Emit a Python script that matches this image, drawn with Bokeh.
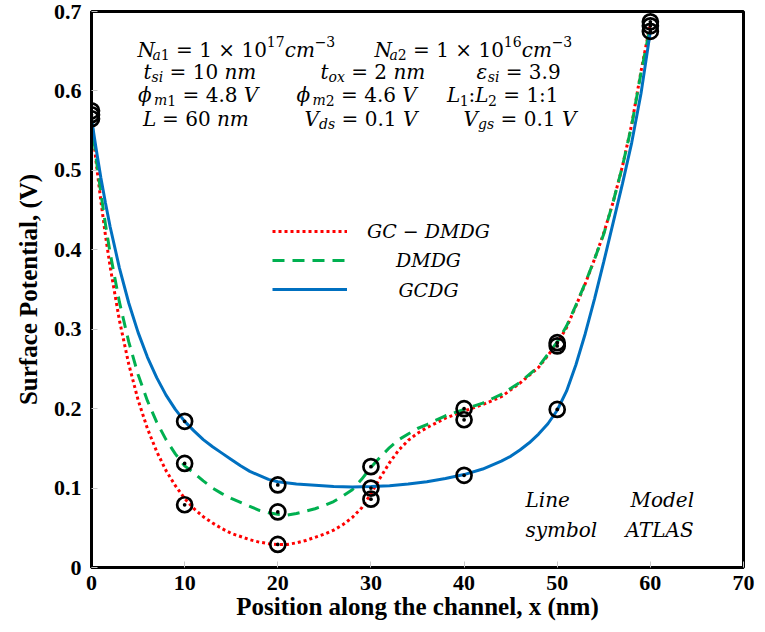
import numpy as np
from bokeh.plotting import figure
from bokeh.models import (ColumnDataSource, Range1d, FixedTicker, CustomJSTickFormatter,
                          Legend, LegendItem, Label)
from bokeh.core.properties import value
from bokeh.embed import file_html
from bokeh.resources import INLINE

# ---------------- data ----------------
x_ticks = [0, 10, 20, 30, 40, 50, 60, 70]
y_ticks = [0, 0.1, 0.2, 0.3, 0.4, 0.5, 0.6, 0.7]

# Model curves (position nm, surface potential V)
gcdmdg_x = [0, 0.5, 1, 1.5, 2, 3, 4, 5, 6, 7, 8, 9, 10, 11, 12, 13, 14, 15, 16, 17, 18, 19,
            20, 21, 22, 23, 24, 25, 26, 27, 28, 29, 30, 31, 32, 33, 34, 35, 36, 38, 40, 42,
            44, 46, 48, 50, 51, 52, 53, 54, 55, 56, 57, 58, 59, 60]
gcdmdg_v = [0.565, 0.510, 0.462, 0.418, 0.379, 0.311, 0.256, 0.211, 0.175, 0.146, 0.122,
            0.103, 0.087, 0.074, 0.064, 0.056, 0.049, 0.043, 0.039, 0.035, 0.032, 0.030,
            0.029, 0.029, 0.031, 0.034, 0.038, 0.042, 0.047, 0.054, 0.063, 0.075, 0.093,
            0.113, 0.132, 0.148, 0.160, 0.169, 0.176, 0.188, 0.197, 0.205, 0.215, 0.232,
            0.252, 0.282, 0.302, 0.329, 0.357, 0.388, 0.421, 0.460, 0.505, 0.558, 0.625,
            0.685]

dmdg_x = [0, 0.5, 1, 1.5, 2, 3, 4, 5, 6, 7, 8, 9, 10, 11, 12, 13, 14, 15, 16, 17, 18, 19,
          20, 21, 22, 23, 24, 25, 26, 27, 28, 29, 30, 31, 32, 33, 34, 35, 36, 38, 40, 42,
          44, 46, 48, 50, 51, 52, 53, 54, 55, 56, 57, 58, 59, 60]
dmdg_v = [0.565, 0.515, 0.472, 0.432, 0.396, 0.334, 0.284, 0.243, 0.210, 0.183, 0.161,
          0.143, 0.128, 0.119, 0.109, 0.100, 0.093, 0.087, 0.082, 0.077, 0.072, 0.069,
          0.067, 0.066, 0.068, 0.071, 0.074, 0.078, 0.083, 0.090, 0.098, 0.111, 0.126,
          0.139, 0.151, 0.161, 0.168, 0.175, 0.180, 0.191, 0.199, 0.207, 0.218, 0.233,
          0.253, 0.284, 0.304, 0.330, 0.358, 0.388, 0.420, 0.460, 0.505, 0.557, 0.623,
          0.682]

gcdg_x = [0, 0.5, 1, 1.5, 2, 3, 4, 5, 6, 7, 8, 9, 10, 11, 12, 13, 14, 15, 16, 17, 18, 19,
          20, 22, 24, 26, 28, 30, 32, 34, 36, 38, 40, 42, 44, 45, 46, 47, 48, 49, 50, 51, 52,
          53, 54, 55, 56, 57, 58, 59, 60]
gcdg_v = [0.565, 0.527, 0.491, 0.459, 0.429, 0.377, 0.333, 0.296, 0.265, 0.239, 0.217,
          0.199, 0.184, 0.172, 0.161, 0.152, 0.144, 0.136, 0.128, 0.121, 0.116, 0.111,
          0.108, 0.105, 0.1035, 0.102, 0.1015, 0.102, 0.103, 0.105, 0.108, 0.112, 0.117,
          0.124, 0.134, 0.140, 0.148, 0.157, 0.168, 0.181, 0.198, 0.222, 0.255, 0.294,
          0.338, 0.385, 0.434, 0.483, 0.535, 0.597, 0.675]

# ATLAS simulation points
atlas_x = [0, 10, 20, 30, 40, 50, 60]
atlas_gcdmdg = [0.575, 0.079, 0.029, 0.086, 0.186, 0.283, 0.687]
atlas_dmdg = [0.570, 0.131, 0.070, 0.127, 0.200, 0.279, 0.682]
atlas_gcdg = [0.565, 0.184, 0.104, 0.100, 0.116, 0.199, 0.675]

series_labels = ["GC \u2212 DMDG", "DMDG", "GCDG"]
series_colors = ["#ff0000", "#00b050", "#0070c0"]

# ---------------- figure ----------------
FL, FT, FR, FB = 91, 11, 743, 567     # frame edges in page pixels
W_, H_ = 765, 630
p = figure(width=W_, height=H_, output_backend="svg", toolbar_location=None,
           x_range=Range1d(0, 70), y_range=Range1d(0, 0.7),
           min_border_left=FL, min_border_right=W_ - FR, min_border_top=FT,
           min_border_bottom=H_ - FB)
p.grid.visible = False
p.outline_line_color = "black"
p.outline_line_width = 3
p.outline_line_alpha = 1
p.background_fill_color = "white"
p.border_fill_color = "white"

for ax in (p.xaxis[0], p.yaxis[0]):
    ax.axis_line_width = 3
    ax.axis_line_color = "black"
    ax.major_tick_in = 6
    ax.major_tick_out = 0
    ax.major_tick_line_color = "#c8c8c8"
    ax.major_tick_line_width = 1
    ax.minor_tick_line_color = None
    ax.major_label_text_font = "Liberation Serif"
    ax.major_label_text_font_style = "bold"
    ax.major_label_text_font_size = "22px"
    ax.major_label_text_color = "black"
    ax.axis_label_text_font = "Liberation Serif"
    ax.axis_label_text_color = "black"
    ax.axis_label_text_font_style = "bold"
    ax.axis_label_text_font_size = "25px"

p.xaxis.ticker = FixedTicker(ticks=x_ticks)
p.yaxis.ticker = FixedTicker(ticks=y_ticks)
p.yaxis.formatter = CustomJSTickFormatter(code="return tick === 0 ? '0' : tick.toFixed(1);")
p.xaxis.major_label_standoff = 8
p.yaxis.major_label_standoff = 10

p.xaxis.axis_label = "Position along the channel, x (nm)"
p.xaxis.axis_label_standoff = 0
p.yaxis.axis_label = "Surface Potential, (V)"
p.yaxis.axis_label_standoff = 9

# curves
r_red = p.line(gcdmdg_x, gcdmdg_v, line_color=series_colors[0], line_width=3, line_dash="3 3")
r_green = p.line(dmdg_x, dmdg_v, line_color=series_colors[1], line_width=3, line_dash="12 8")
r_blue = p.line(gcdg_x, gcdg_v, line_color=series_colors[2], line_width=3)

# ATLAS markers
for ys in (atlas_gcdmdg, atlas_dmdg, atlas_gcdg):
    p.scatter(atlas_x, ys, marker="circle_dot", size=15, line_color="black",
              line_width=2.7, fill_color=None)

# legend samples (labels drawn separately so they can be centred)
legend = Legend(items=[LegendItem(label=" ", renderers=[r_red]),
                       LegendItem(label=" ", renderers=[r_green]),
                       LegendItem(label=" ", renderers=[r_blue])],
                location=(181, 268), orientation="vertical",
                glyph_width=75, glyph_height=20, label_height=20, spacing=9,
                label_standoff=0, label_text_font_size="1px", label_width=1,
                padding=0, margin=0, border_line_color=None, background_fill_alpha=0)
p.add_layout(legend)


def px_to_data(px, py):
    return (px - FL) / ((FR - FL) / 70), (FB - py) / ((FB - FT) / 0.7)


for lab, py in zip(series_labels, [230.5, 259.5, 289]):
    xd, yd = px_to_data(428, py)
    p.add_layout(Label(x=xd, y=yd, text=lab, text_font="DejaVu Serif",
                       text_font_style="italic", text_font_size="19px",
                       text_baseline="alphabetic", text_align="center", text_color="black"))

# ---------------- parameter annotations (math-like text) ----------------
W = {' ': .318, '.': .318, ':': .337, '=': .838, '\u00d7': .838, '\u2212': .838,
     'a': .596, 'c': .55, 'd': .64, 'g': .64, 'i': .32, 'm': .948, 'n': .64, 'o': .602,
     's': .513, 't': .401, 'x': .562, 'N': .75, 'V': .73, 'L': .634, '\u03b5': .56,
     '\u03d5': .8}
for dch in "0123456789":
    W[dch] = .636

MAIN, SUB, SUP = (20, 0), (14, 5), (14, -8)
R1, R2, R3, R4 = 49, 71.5, 94.5, 118

items = [
    ((137, R1), [("N", "italic", MAIN), ("a", "italic", SUB), ("1", "normal", SUB),
                 (" = 1 \u00d7 10", "normal", MAIN), ("17", "normal", SUP),
                 ("cm", "italic", MAIN), ("\u22123", "normal", SUP)]),
    ((374, R1), [("N", "italic", MAIN), ("a", "italic", SUB), ("2", "normal", SUB),
                 (" = 1 \u00d7 10", "normal", MAIN), ("16", "normal", SUP),
                 ("cm", "italic", MAIN), ("\u22123", "normal", SUP)]),
    ((143, R2), [("t", "italic", MAIN), ("si", "italic", SUB), (" = 10 ", "normal", MAIN),
                 ("nm", "italic", MAIN)]),
    ((320, R2), [("t", "italic", MAIN), ("ox", "italic", SUB), (" = 2 ", "normal", MAIN),
                 ("nm", "italic", MAIN)]),
    ((476, R2), [("\u03b5", "italic", MAIN), ("si", "italic", SUB), (" = 3.9", "normal", MAIN)]),
    ((137.5, R3), [("\u03d5", "italic", MAIN), ("m", "italic", SUB), ("1", "normal", SUB),
                   (" = 4.8 ", "normal", MAIN), ("V", "italic", MAIN)]),
    ((296, R3), [("\u03d5", "italic", MAIN), ("m", "italic", SUB), ("2", "normal", SUB),
                 (" = 4.6 ", "normal", MAIN), ("V", "italic", MAIN)]),
    ((446.5, R3), [("L", "italic", MAIN), ("1", "normal", SUB), (":", "normal", MAIN),
                   ("L", "italic", MAIN), ("2", "normal", SUB), (" = 1:1", "normal", MAIN)]),
    ((142.5, R4), [("L", "italic", MAIN), (" = 60 ", "normal", MAIN), ("nm", "italic", MAIN)]),
    ((304, R4), [("V", "italic", MAIN), ("ds", "italic", SUB), (" = 0.1 ", "normal", MAIN),
                 ("V", "italic", MAIN)]),
    ((463, R4), [("V", "italic", MAIN), ("gs", "italic", SUB), (" = 0.1 ", "normal", MAIN),
                 ("V", "italic", MAIN)]),
]

seg = dict(x=[], y=[], text=[], xo=[], yo=[], fs=[], style=[])
for (px, py), parts in items:
    xd, yd = px_to_data(px, py)
    off = 0.0
    for txt, style, (fs, yo) in parts:
        lead = len(txt) - len(txt.lstrip(' '))
        core = txt.strip(' ')
        trail = len(txt) - len(txt.rstrip(' '))
        off += lead * W[' '] * fs
        seg['x'].append(xd); seg['y'].append(yd); seg['text'].append(core)
        seg['xo'].append(off); seg['yo'].append(yo)
        seg['fs'].append(f"{fs}px"); seg['style'].append(style)
        off += sum(W.get(ch, .6) for ch in core) * fs + trail * W[' '] * fs

src = ColumnDataSource(seg)
p.text(x='x', y='y', text='text', x_offset='xo', y_offset='yo', source=src,
       text_font=value("DejaVu Serif"), text_font_size='fs', text_font_style='style',
       text_baseline="alphabetic", text_align="left", text_color="black")

# Line / symbol  -  Model / ATLAS
for txt, (px, py) in [("Line", (525, 499)), ("Model", (630, 499)),
                      ("symbol", (525, 529.5)), ("ATLAS", (625, 529.5))]:
    xd, yd = px_to_data(px, py)
    p.add_layout(Label(x=xd, y=yd, text=txt, text_font="DejaVu Serif",
                       text_font_style="italic", text_font_size="20px",
                       text_baseline="alphabetic", text_align="left", text_color="black"))

open("out.html", "w").write(file_html(p, INLINE))
